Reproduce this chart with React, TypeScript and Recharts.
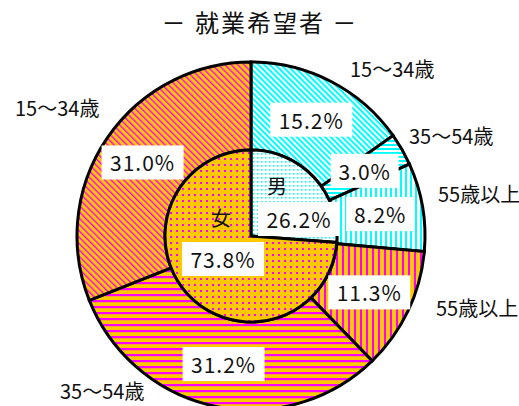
import { PieChart, Pie, Cell } from "recharts";

// outer ring: age groups, clockwise from 12 o'clock (male first, then female)
const outerNames = ["15～34歳", "35～54歳", "55歳以上", "55歳以上", "35～54歳", "15～34歳"];
const outerValues = [15.2, 3.0, 8.2, 11.3, 31.2, 31.0];
// inner pie: sex
const innerNames = ["男", "女"];
const innerValues = [26.2, 73.8];

const outerData = outerNames.map((name, i) => ({ name, value: outerValues[i] }));
const innerData = innerNames.map((name, i) => ({ name, value: innerValues[i] }));

const outerFills = ["url(#mDiag)", "url(#mHorz)", "url(#mVert)", "url(#fVert)", "url(#fHorz)", "url(#fDiag)"];
const innerFills = ["url(#mDots)", "url(#fDots)"];

// where the age-group names sit, relative to the pie centre
const nameOffsets = [
  [99, -168], [158, -101], [187, -43], [185, 71], [-191, 154], [-236, -129],
];
// where the sex label + percent box sit, relative to the pie centre
const innerOffsets = [
  { name: [26, -51], box: [48, -17] },
  { name: [-30, -19], box: [-28, 23] },
];

const ORANGE = "#FFC800";
const MAGENTA = "#FF00FF";
const CYAN = "#00FFFF";
const FONT = "'Noto Sans CJK JP', 'Noto Sans', sans-serif";
const RAD = Math.PI / 180;

const boxWidth = (s: string) => (s.length >= 5 ? 82 : 68);

function PercentBox({ x, y, text }: { x: number; y: number; text: string }) {
  const w = boxWidth(text);
  return (
    <g>
      <rect x={x - w / 2} y={y - 17} width={w} height={34} fill="#fff" />
      <text x={x} y={y} textAnchor="middle" dominantBaseline="central"
        fontSize={21} letterSpacing={1} fill="#111" fontFamily={FONT}>{text}</text>
    </g>
  );
}

const renderOuterLabel = (props: any) => {
  const { cx, cy, midAngle, index, value } = props;
  const r = 131;
  const x = cx + r * Math.cos(-midAngle * RAD);
  const y = cy + r * Math.sin(-midAngle * RAD);
  const [nx, ny] = nameOffsets[index];
  return (
    <g key={`ol-${index}`}>
      <PercentBox x={x} y={y} text={`${value.toFixed(1)}%`} />
      <text x={cx + nx} y={cy + ny} dominantBaseline="central" fontSize={20}
        fill="#111" fontFamily={FONT}>{outerNames[index]}</text>
    </g>
  );
};

const renderInnerLabel = (props: any) => {
  const { cx, cy, index, value } = props;
  const o = innerOffsets[index];
  return (
    <g key={`il-${index}`}>
      <text x={cx + o.name[0]} y={cy + o.name[1]} textAnchor="middle" dominantBaseline="central"
        fontSize={20} fill="#111" fontFamily={FONT}>{innerNames[index]}</text>
      <PercentBox x={cx + o.box[0]} y={cy + o.box[1]} text={`${value.toFixed(1)}%`} />
    </g>
  );
};

export default function App() {
  return (
    <div style={{ position: "absolute", left: 0, top: 0, background: "#fff" }}>
      <PieChart width={519} height={406}>
        <defs>
          <pattern id="mDiag" width="4" height="4" patternUnits="userSpaceOnUse" patternTransform="rotate(-45)">
            <rect width="4" height="4" fill="#fff" />
            <rect width="2" height="4" fill={CYAN} />
          </pattern>
          <pattern id="mHorz" width="4" height="4" patternUnits="userSpaceOnUse">
            <rect width="4" height="4" fill="#fff" />
            <rect width="4" height="2" fill={CYAN} />
          </pattern>
          <pattern id="mVert" width="5" height="5" patternUnits="userSpaceOnUse">
            <rect width="5" height="5" fill="#fff" />
            <rect width="2" height="5" fill={CYAN} />
          </pattern>
          <pattern id="mDots" width="4" height="4" patternUnits="userSpaceOnUse">
            <rect width="4" height="4" fill="#fff" />
            <rect x="1" y="1" width="1.6" height="1.6" fill={CYAN} />
          </pattern>
          <pattern id="fDiag" width="4.5" height="4.5" patternUnits="userSpaceOnUse" patternTransform="rotate(-45)">
            <rect width="4.5" height="4.5" fill={ORANGE} />
            <rect width="1.4" height="4.5" fill={MAGENTA} />
          </pattern>
          <pattern id="fHorz" width="6" height="6" patternUnits="userSpaceOnUse">
            <rect width="6" height="6" fill={ORANGE} />
            <rect width="6" height="2.2" fill={MAGENTA} />
          </pattern>
          <pattern id="fVert" width="6" height="6" patternUnits="userSpaceOnUse">
            <rect width="6" height="6" fill={ORANGE} />
            <rect width="2" height="6" fill={MAGENTA} />
          </pattern>
          <pattern id="fDots" width="6" height="6" patternUnits="userSpaceOnUse">
            <rect width="6" height="6" fill={ORANGE} />
            <rect x="2" y="2" width="2" height="2" fill={MAGENTA} />
          </pattern>
        </defs>
        <text x={260} y={21} textAnchor="middle" dominantBaseline="central" fontSize={24}
          letterSpacing={2} fill="#111" fontFamily={FONT}>－ 就業希望者 －</text>
        <Pie
          data={outerData} dataKey="value" cx={246} cy={231}
          innerRadius={86} outerRadius={174} startAngle={90} endAngle={-270}
          stroke="#000" strokeWidth={3} label={renderOuterLabel} labelLine={false}
          isAnimationActive={false}
        >
          {outerData.map((d, i) => <Cell key={d.name + i} fill={outerFills[i]} />)}
        </Pie>
        <Pie
          data={innerData} dataKey="value" cx={246} cy={231}
          outerRadius={86} startAngle={90} endAngle={-270}
          stroke="#000" strokeWidth={3} label={renderInnerLabel} labelLine={false}
          isAnimationActive={false}
        >
          {innerData.map((d, i) => <Cell key={d.name} fill={innerFills[i]} />)}
        </Pie>
      </PieChart>
    </div>
  );
}
